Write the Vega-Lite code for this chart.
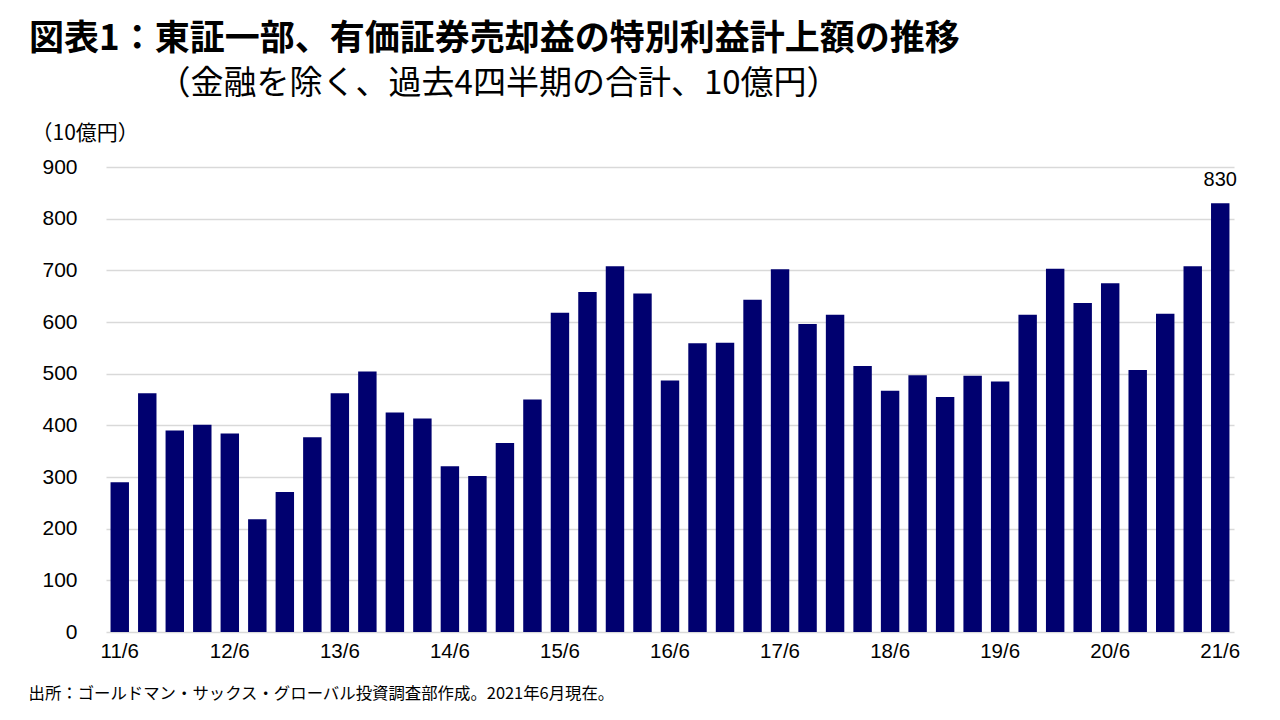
{
  "$schema": "https://vega.github.io/schema/vega-lite/v6.json",
  "width": 1128,
  "height": 465,
  "autosize": {"type": "none"},
  "padding": {"left": 106, "top": 167, "right": 46, "bottom": 88},
  "background": "white",
  "title": {
    "text": "図表1：東証一部、有価証券売却益の特別利益計上額の推移",
    "subtitle": "\u200b\u3000\u3000\u3000\u00a0\u00a0\u00a0\u00a0（金融を除く、過去4四半期の合計、10億円）",
    "anchor": "start",
    "frame": "group",
    "dx": -77,
    "offset": 21,
    "font": "Noto Sans CJK JP",
    "fontSize": 35,
    "fontWeight": "bold",
    "color": "#000000",
    "subtitleFont": "Noto Sans CJK JP",
    "subtitleFontSize": 33,
    "subtitleColor": "#000000",
    "subtitlePadding": 11
  },
  "data": {
    "values": [
      {"q": "11/6", "v": 290}, {"q": "11/9", "v": 462}, {"q": "11/12", "v": 390}, {"q": "12/3", "v": 401},
      {"q": "12/6", "v": 384}, {"q": "12/9", "v": 218}, {"q": "12/12", "v": 271}, {"q": "13/3", "v": 377},
      {"q": "13/6", "v": 462}, {"q": "13/9", "v": 504}, {"q": "13/12", "v": 425}, {"q": "14/3", "v": 413},
      {"q": "14/6", "v": 321}, {"q": "14/9", "v": 302}, {"q": "14/12", "v": 366}, {"q": "15/3", "v": 450},
      {"q": "15/6", "v": 618}, {"q": "15/9", "v": 658}, {"q": "15/12", "v": 708}, {"q": "16/3", "v": 655},
      {"q": "16/6", "v": 487}, {"q": "16/9", "v": 559}, {"q": "16/12", "v": 560}, {"q": "17/3", "v": 643},
      {"q": "17/6", "v": 702}, {"q": "17/9", "v": 596}, {"q": "17/12", "v": 614}, {"q": "18/3", "v": 515},
      {"q": "18/6", "v": 467}, {"q": "18/9", "v": 497}, {"q": "18/12", "v": 455}, {"q": "19/3", "v": 496},
      {"q": "19/6", "v": 485}, {"q": "19/9", "v": 614}, {"q": "19/12", "v": 703}, {"q": "20/3", "v": 637},
      {"q": "20/6", "v": 675}, {"q": "20/9", "v": 507}, {"q": "20/12", "v": 616}, {"q": "21/3", "v": 708},
      {"q": "21/6", "v": 830}
    ]
  },
  "layer": [
    {
      "mark": {"type": "bar", "color": "#00006f"},
      "encoding": {
        "x": {
          "field": "q",
          "type": "ordinal",
          "sort": null,
          "scale": {"paddingInner": 0.33, "paddingOuter": 0.165},
          "axis": {
            "labelExpr": "slice(datum.value, -2) == '/6' ? datum.value : ''",
            "labelAngle": 0,
            "labelFont": "Liberation Sans",
            "labelFontSize": 20.5,
            "labelColor": "#000000",
            "labelPadding": 9,
            "ticks": false,
            "domain": false,
            "grid": false,
            "title": "出所：ゴールドマン・サックス・グローバル投資調査部作成。2021年6月現在。",
            "titleFont": "Noto Sans CJK JP",
            "titleFontSize": 16.4,
            "titleFontWeight": "normal",
            "titleColor": "#000000",
            "titleAnchor": "start",
            "titleAlign": "left",
            "titleBaseline": "middle",
            "titleX": -78,
            "titleY": 61
          }
        },
        "y": {
          "field": "v",
          "type": "quantitative",
          "scale": {"domain": [0, 900]},
          "axis": {
            "values": [0, 100, 200, 300, 400, 500, 600, 700, 800, 900],
            "grid": true,
            "gridColor": "#d9d9d9",
            "gridWidth": 1.5,
            "domain": false,
            "ticks": false,
            "labelPadding": 29,
            "labelFont": "Liberation Sans",
            "labelFontSize": 21,
            "labelColor": "#000000",
            "title": "（10億円）",
            "titleAngle": 0,
            "titleAlign": "left",
            "titleBaseline": "alphabetic",
            "titleX": -75,
            "titleY": -28,
            "titleFont": "Noto Sans CJK JP",
            "titleFontSize": 21,
            "titleFontWeight": "normal",
            "titleColor": "#000000"
          }
        }
      }
    },
    {
      "transform": [{"filter": "datum.q == '21/6'"}],
      "mark": {"type": "text", "dy": -17, "baseline": "alphabetic", "font": "Liberation Sans", "fontSize": 20, "color": "#000000"},
      "encoding": {
        "x": {"field": "q", "type": "ordinal", "sort": null},
        "y": {"field": "v", "type": "quantitative"},
        "text": {"field": "v", "type": "quantitative"}
      }
    }
  ],
  "config": {"view": {"stroke": null}}
}
